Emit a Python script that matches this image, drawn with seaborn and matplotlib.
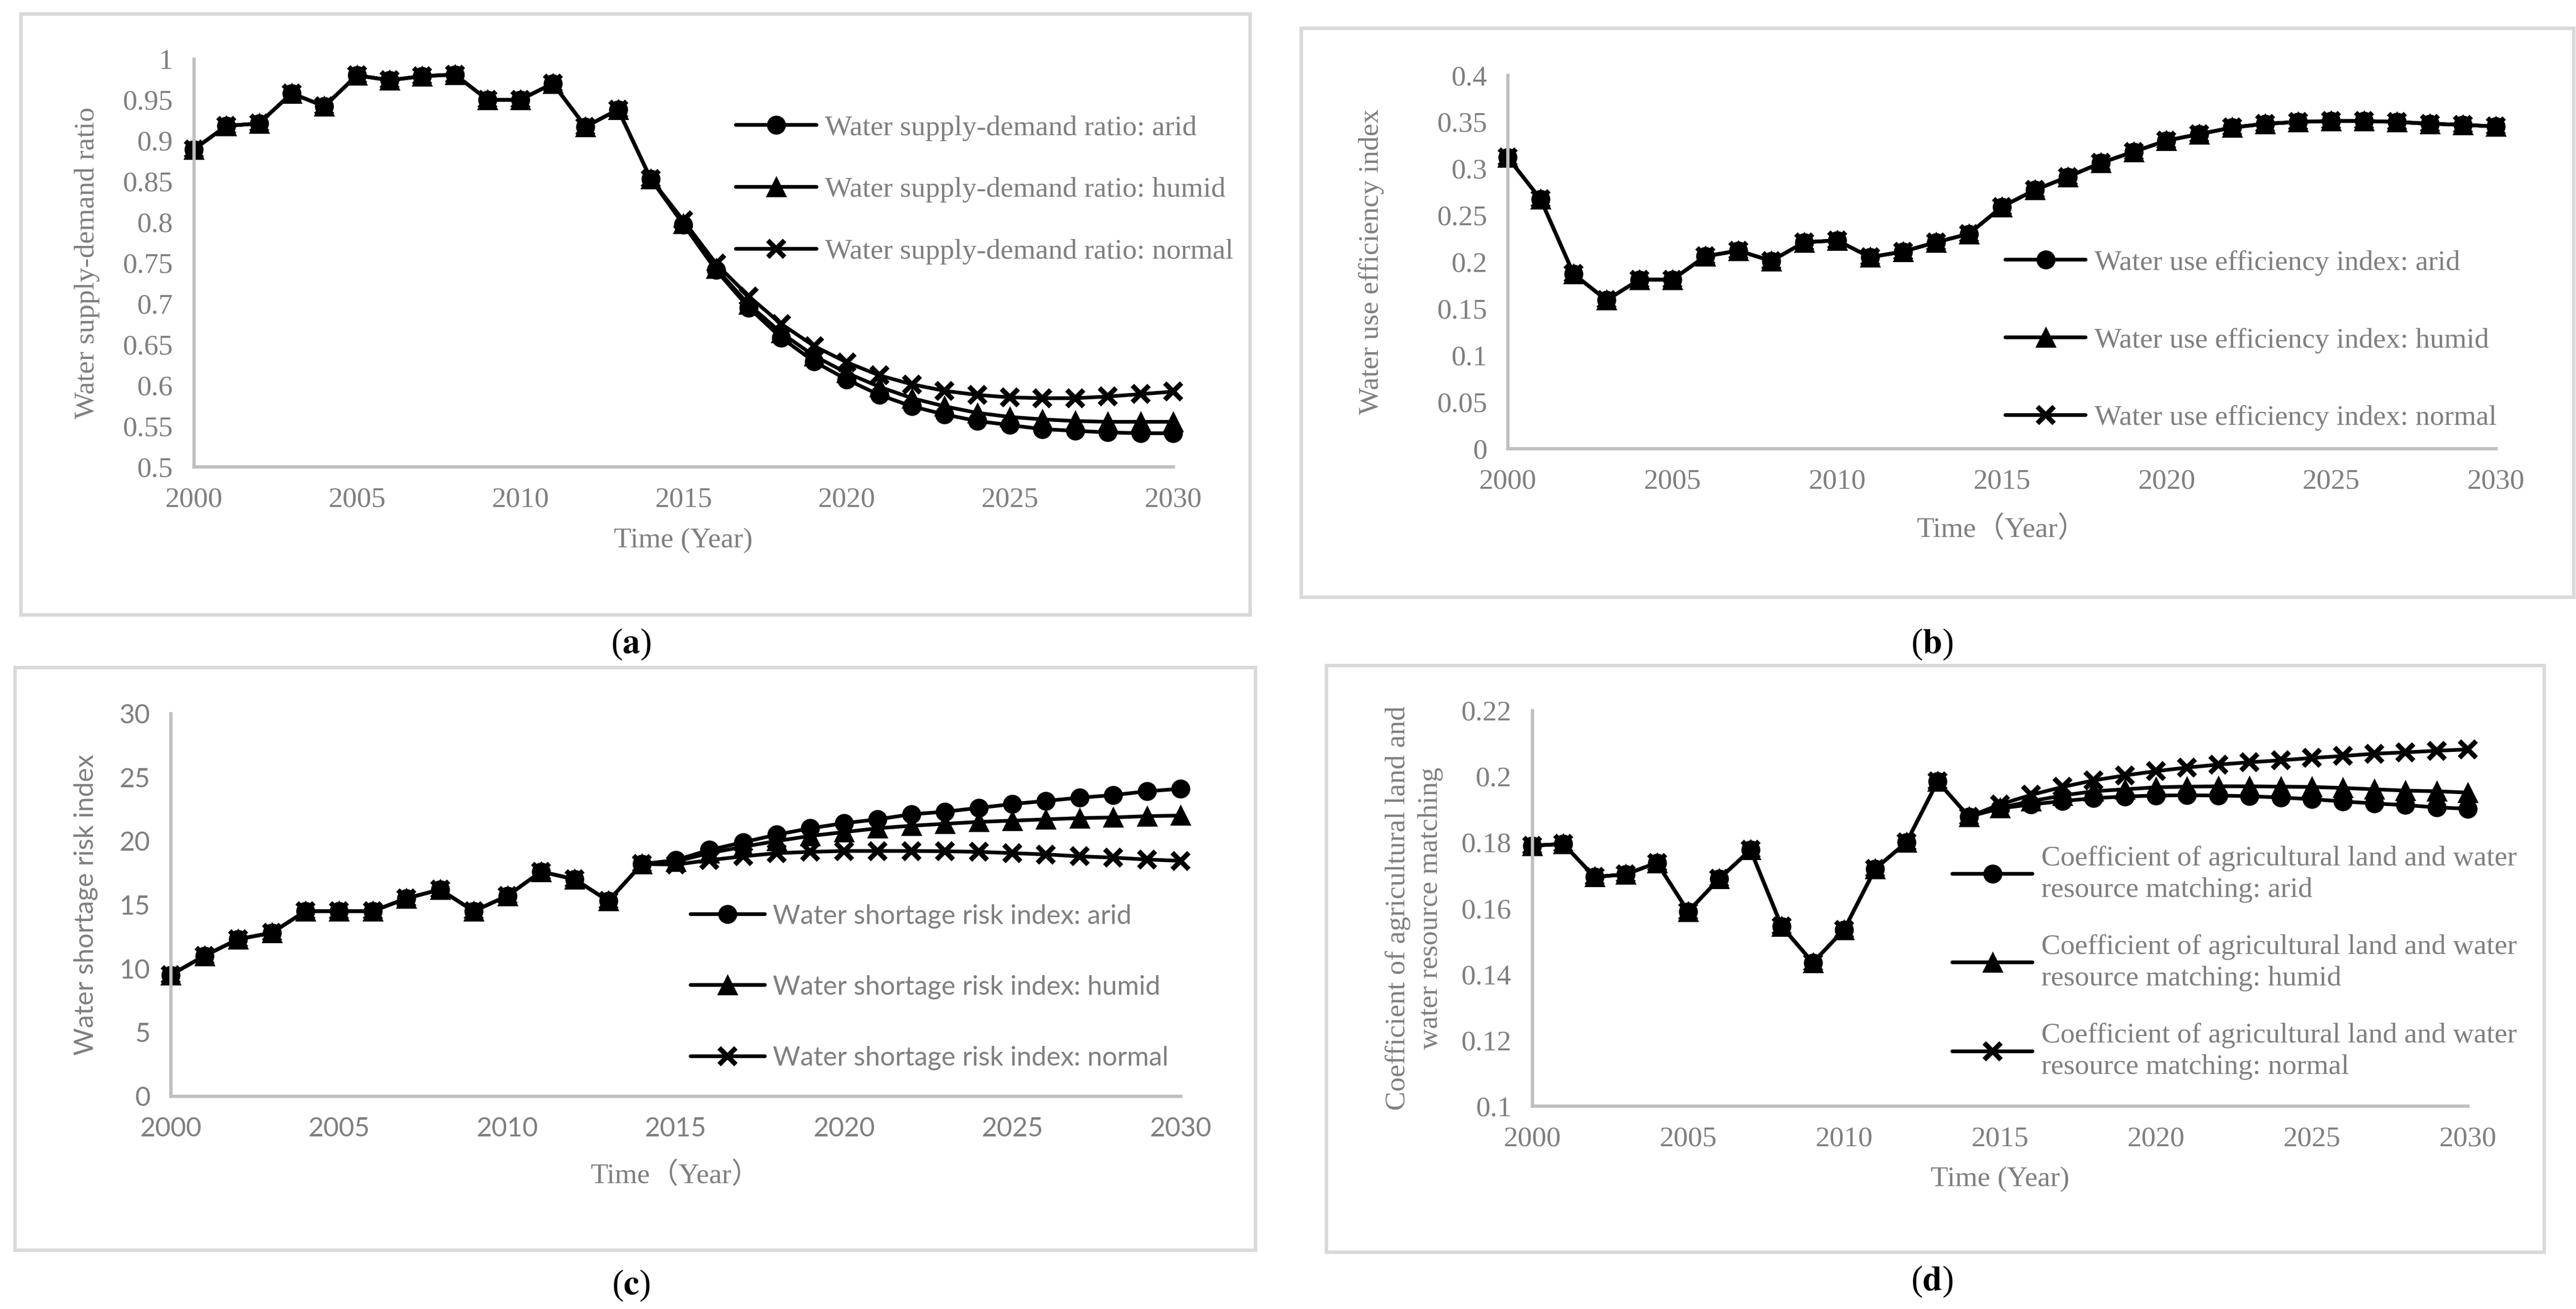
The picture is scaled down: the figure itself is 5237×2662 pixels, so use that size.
import matplotlib
matplotlib.use('Agg')
import matplotlib.pyplot as plt
import seaborn as sns
from matplotlib.patches import Rectangle
from matplotlib.ticker import FuncFormatter, MultipleLocator

sns.set_style('white')
plt.rcParams['font.family'] = ['Liberation Serif', 'Noto Sans CJK SC']
plt.rcParams['mathtext.fontset'] = 'stix'

years = list(range(2000, 2031))
scenarios = ['arid', 'humid', 'normal']

# (a) water supply-demand ratio
a_hist = [0.889, 0.918, 0.921, 0.958, 0.942, 0.980, 0.974, 0.979, 0.981, 0.950,
          0.950, 0.970, 0.917, 0.938, 0.853]
a_arid = a_hist + [0.797, 0.741, 0.695, 0.658, 0.629, 0.607, 0.588, 0.574,
                   0.564, 0.556, 0.551, 0.546, 0.544, 0.542, 0.541, 0.541]
a_humid = a_hist + [0.798, 0.743, 0.699, 0.664, 0.636, 0.615, 0.598, 0.584,
                    0.574, 0.566, 0.561, 0.558, 0.556, 0.555, 0.555, 0.555]
a_normal = a_hist + [0.802, 0.749, 0.709, 0.675, 0.648, 0.628, 0.612, 0.601,
                     0.593, 0.588, 0.585, 0.584, 0.584, 0.586, 0.589, 0.592]

# (b) water use efficiency index (three scenarios coincide)
b_arid = [0.312, 0.267, 0.187, 0.159, 0.181, 0.181, 0.206, 0.212, 0.201, 0.221,
          0.223, 0.205, 0.211, 0.221, 0.230, 0.259, 0.277, 0.291, 0.306, 0.318,
          0.330, 0.337, 0.344, 0.348, 0.350, 0.351, 0.351, 0.350, 0.348, 0.347, 0.345]
b_humid = list(b_arid)
b_normal = list(b_arid)

# (c) water shortage risk index
c_hist = [9.5, 11.0, 12.3, 12.8, 14.5, 14.5, 14.5, 15.5, 16.2, 14.5, 15.7, 17.6,
          17.0, 15.3, 18.2]
c_arid = c_hist + [18.5, 19.3, 19.9, 20.5, 21.0, 21.4, 21.7, 22.1, 22.3, 22.6,
                   22.9, 23.15, 23.4, 23.6, 23.9, 24.1]
c_humid = c_hist + [18.4, 19.05, 19.55, 20.0, 20.4, 20.7, 21.0, 21.2, 21.35, 21.5,
                    21.6, 21.7, 21.8, 21.85, 21.95, 22.0]
c_normal = c_hist + [18.15, 18.5, 18.8, 19.05, 19.15, 19.22, 19.22, 19.22, 19.2,
                     19.15, 19.05, 18.95, 18.8, 18.7, 18.55, 18.45]

# (d) coefficient of agricultural land and water resource matching
d_hist = [0.179, 0.1795, 0.1695, 0.1703, 0.1738, 0.159, 0.169, 0.1777, 0.1545,
          0.1435, 0.1535, 0.172, 0.180, 0.1985, 0.1878]
d_arid = d_hist + [0.1903, 0.1915, 0.1925, 0.1934, 0.1939, 0.1942, 0.1943, 0.1942,
                   0.1940, 0.1936, 0.1931, 0.1924, 0.1918, 0.1913, 0.1906, 0.1902]
d_humid = d_hist + [0.1905, 0.1925, 0.1942, 0.1955, 0.1961, 0.1967, 0.1969, 0.1970,
                    0.1970, 0.1969, 0.1968, 0.1965, 0.1961, 0.1957, 0.1955, 0.1951]
d_normal = d_hist + [0.1915, 0.1944, 0.1968, 0.1988, 0.2003, 0.2016, 0.2027, 0.2036,
                     0.2043, 0.2049, 0.2056, 0.2062, 0.2069, 0.2073, 0.2078, 0.2082]

GRAY = '#7f7f7f'
markers = {'arid': dict(marker='o', markersize=8.5),
           'humid': dict(marker='^', markersize=9),
           'normal': dict(marker='x', markersize=8, markeredgewidth=2.4)}

fig = plt.figure(figsize=(5237 / 300, 2662 / 300), dpi=300)

# light frames around each panel
for (x0, y0, w, h) in [(0.0080, 0.5304, 0.4772, 0.4591), (0.5051, 0.5440, 0.4940, 0.4346),
                       (0.0057, 0.0451, 0.4816, 0.4452), (0.5148, 0.0436, 0.4728, 0.4482)]:
    fig.patches.append(Rectangle((x0, y0), w, h, transform=fig.transFigure, fill=False,
                                 edgecolor='#d9d9d9', linewidth=1.7))

panels = [
    dict(pos=[0.0752, 0.6435, 0.3802, 0.3114], series=[a_arid, a_humid, a_normal],
         name='Water supply-demand ratio', ylim=(0.5, 1.0), step=0.05,
         ylabel='Water supply-demand ratio', xlabel='Time (Year)', font='serif',
         ylab_x=-0.096, xlab_y=-0.15, leg=(0.2857, 0.855), ls=1.25, lsp=1.15,
         cap='a', cap_xy=(0.245, 0.508)),
    dict(pos=[0.5853, 0.6574, 0.3836, 0.2851], series=[b_arid, b_humid, b_normal],
         name='Water use efficiency index', ylim=(0.0, 0.4), step=0.05,
         ylabel='Water use efficiency index', xlabel='Time（Year）', font='serif',
         ylab_x=-0.125, xlab_y=-0.181, leg=(0.7785, 0.740), ls=1.8, lsp=1.15,
         cap='b', cap_xy=(0.750, 0.508)),
    dict(pos=[0.0663, 0.1627, 0.3920, 0.2922], series=[c_arid, c_humid, c_normal],
         name='Water shortage risk index', ylim=(0, 30), step=5,
         ylabel='Water shortage risk index', xlabel='Time（Year）', font='sans',
         ylab_x=-0.072, xlab_y=-0.172, leg=(0.268, 0.246), ls=1.75, lsp=1.15,
         cap='c', cap_xy=(0.245, 0.018)),
    dict(pos=[0.5948, 0.1551, 0.3632, 0.3021], series=[d_arid, d_humid, d_normal],
         name='Coefficient of agricultural land and water\nresource matching', ylim=(0.1, 0.22),
         step=0.02, ylabel='Coefficient of agricultural land and\nwater resource matching',
         xlabel='Time (Year)', font='serif', ylab_x=-0.095, xlab_y=-0.153, leg=(0.7579, 0.2645),
         ls=1.1, lsp=1.3, cap='d', cap_xy=(0.750, 0.021)),
]

for p in panels:
    ax = fig.add_axes(p['pos'])
    fam = ['Lato', 'Noto Sans CJK SC'] if p['font'] == 'sans' else ['Liberation Serif', 'Noto Sans CJK SC']
    fs = 13 if p['font'] == 'sans' else 14
    for sc, vals in zip(scenarios, p['series']):
        sns.lineplot(x=years, y=vals, ax=ax, color='black', linewidth=1.8,
                     markerfacecolor='black', markeredgecolor='black',
                     label=f"{p['name']}: {sc}", clip_on=False, **markers[sc])
    ax.set_xlim(2000, 2030)
    ax.set_ylim(*p['ylim'])
    ax.xaxis.set_major_locator(MultipleLocator(5))
    ax.yaxis.set_major_locator(MultipleLocator(p['step']))
    ax.yaxis.set_major_formatter(FuncFormatter(lambda v, _: f'{round(v, 4):g}'))
    for s in ['top', 'right']:
        ax.spines[s].set_visible(False)
    for s in ['left', 'bottom']:
        ax.spines[s].set_color('#bfbfbf')
        ax.spines[s].set_linewidth(1.6)
    ax.tick_params(length=0, pad=10, labelcolor=GRAY, labelsize=fs)
    for t in ax.get_xticklabels() + ax.get_yticklabels():
        t.set_family(fam)
    ax.set_ylabel(p['ylabel'], color=GRAY, fontsize=fs, family=fam, linespacing=1.36)
    ax.set_xlabel(p['xlabel'], color=GRAY, fontsize=14, family=['Liberation Serif', 'Noto Sans CJK SC'])
    ax.yaxis.set_label_coords(p['ylab_x'], 0.5)
    ax.xaxis.set_label_coords(0.5, p['xlab_y'])
    leg = ax.legend(loc='center left', bbox_to_anchor=p['leg'], bbox_transform=fig.transFigure,
                    frameon=False, borderaxespad=0, borderpad=0, handlelength=2.8,
                    handletextpad=0.3, labelspacing=p['ls'],
                    prop={'family': fam, 'size': fs})
    for t in leg.get_texts():
        t.set_color(GRAY)
        t.set_linespacing(p['lsp'])
    fig.text(p['cap_xy'][0], p['cap_xy'][1], '(' + r'$\mathbf{' + p['cap'] + '}$' + ')',
             ha='center', va='center', fontsize=17, color='black', family='Liberation Serif')

fig.savefig('out.png', dpi=300)
